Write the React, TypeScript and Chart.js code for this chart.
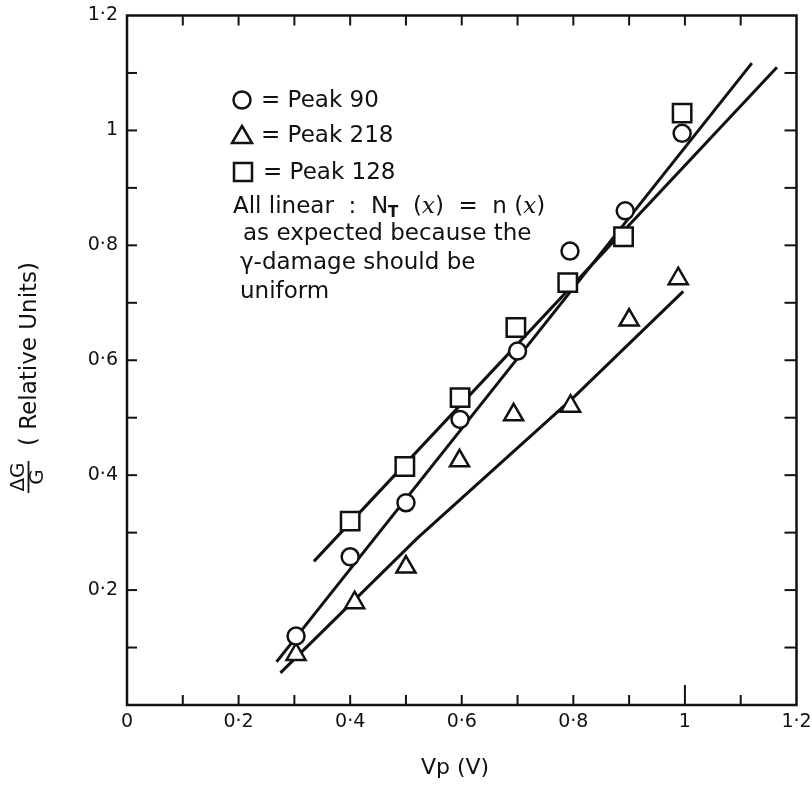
import React, { useEffect, useRef } from 'react';
import { Chart, registerables } from 'chart.js';

Chart.register(...registerables);

// ---- data ----
const peak90X = [0.303, 0.4, 0.5, 0.597, 0.7, 0.794, 0.893, 0.995];
const peak90Y = [0.12, 0.258, 0.352, 0.497, 0.616, 0.79, 0.86, 0.995];

const peak218X = [0.303, 0.408, 0.5, 0.596, 0.693, 0.795, 0.9, 0.988];
const peak218Y = [0.088, 0.178, 0.24, 0.425, 0.505, 0.52, 0.67, 0.742];

const peak128X = [0.4, 0.498, 0.597, 0.697, 0.79, 0.89, 0.995];
const peak128Y = [0.32, 0.415, 0.535, 0.657, 0.735, 0.815, 1.03];

const fit90X = [0.268, 1.12];
const fit90Y = [0.075, 1.117];
const fit128X = [0.335, 1.165];
const fit128Y = [0.25, 1.11];
const fit218X = [0.275, 0.52, 0.8, 0.997];
const fit218Y = [0.056, 0.29, 0.535, 0.72];

const xTickValues = [0, 0.2, 0.4, 0.6, 0.8, 1, 1.2];
const xTickLabels = ['0', '0·2', '0·4', '0·6', '0·8', '1', '1·2'];
const yTickValues = [0.2, 0.4, 0.6, 0.8, 1, 1.2];
const yTickLabels = ['0·2', '0·4', '0·6', '0·8', '1', '1·2'];

const legendLabels = ['= Peak 90', '= Peak 218', '= Peak 128'];
const noteLines = ['as expected because the', 'γ-damage should be', 'uniform'];
const xTitle = 'Vp (V)';
const yTitle = '( Relative Units)';

const FONT = '"DejaVu Sans", sans-serif';
const INK = '#111';

const pts = (xs: number[], ys: number[]) => xs.map((x, i) => ({ x, y: ys[i] }));

const lookup = (vals: number[], labels: string[]) => (value: any) => {
  const v = Number(value);
  const i = vals.findIndex((t) => Math.abs(t - v) < 1e-6);
  return i >= 0 ? labels[i] : '';
};

const decor = {
  id: 'decor',
  beforeDraw(chart: any) {
    const { ctx, width, height } = chart;
    ctx.save();
    ctx.fillStyle = '#fff';
    ctx.fillRect(0, 0, width, height);
    ctx.restore();
  },
  afterDraw(chart: any) {
    const { ctx, chartArea: a, scales } = chart;
    const xs = scales.x;
    const ys = scales.y;
    ctx.save();
    ctx.strokeStyle = INK;
    ctx.fillStyle = INK;
    ctx.lineWidth = 2.5;
    ctx.strokeRect(a.left, a.top, a.right - a.left, a.bottom - a.top);

    const line = (x1: number, y1: number, x2: number, y2: number) => {
      ctx.beginPath();
      ctx.moveTo(x1, y1);
      ctx.lineTo(x2, y2);
      ctx.stroke();
    };
    ctx.lineWidth = 2;
    xs.ticks.forEach((t: any) => {
      if (t.value < 0.05 || t.value > 1.15) return;
      const px = xs.getPixelForValue(t.value);
      const len = Math.abs(t.value - 1) < 1e-6 ? 20 : 10;
      line(px, a.bottom, px, a.bottom - len);
      line(px, a.top, px, a.top + 10);
    });
    ys.ticks.forEach((t: any) => {
      if (t.value < 0.05 || t.value > 1.15) return;
      const py = ys.getPixelForValue(t.value);
      line(a.left, py, a.left + 10, py);
      line(a.right, py, a.right - 12, py);
    });

    // x title
    ctx.font = `22px ${FONT}`;
    ctx.textAlign = 'center';
    ctx.textBaseline = 'middle';
    ctx.fillText(xTitle, 455, 768);

    // y title (rotated)
    ctx.save();
    const tx = 29;
    ctx.translate(tx, 0);
    ctx.rotate(-Math.PI / 2);
    ctx.font = `23px ${FONT}`;
    ctx.textAlign = 'right';
    ctx.textBaseline = 'middle';
    ctx.fillText(yTitle, -262, 1);
    ctx.textAlign = 'center';
    ctx.font = `20px ${FONT}`;
    ctx.fillText('ΔG', -477, -10);
    ctx.fillText('G', -477, 9);
    ctx.lineWidth = 1.8;
    line(-493, -0.5, -461, -0.5);
    ctx.restore();

    // legend block
    ctx.lineWidth = 2.5;
    ctx.textAlign = 'left';
    ctx.textBaseline = 'middle';
    ctx.font = `23px ${FONT}`;
    ctx.beginPath();
    ctx.arc(242, 100, 8.5, 0, Math.PI * 2);
    ctx.stroke();
    ctx.fillText(legendLabels[0], 261, 101);

    ctx.beginPath();
    ctx.moveTo(242, 126);
    ctx.lineTo(252, 143);
    ctx.lineTo(232, 143);
    ctx.closePath();
    ctx.stroke();
    ctx.fillText(legendLabels[1], 261, 136);

    ctx.strokeRect(234, 163, 18, 18);
    ctx.fillText(legendLabels[2], 263, 173);

    let cx = 233;
    const y4 = 207;
    const F = `23px ${FONT}`;
    const IT = `italic 23px "DejaVu Serif", serif`;
    const seg = (text: string, font: string, dy = 0) => {
      ctx.font = font;
      ctx.fillText(text, cx, y4 + dy);
      cx += ctx.measureText(text).width;
    };
    seg('All linear  :  N', F);
    seg('T', `bold 15px ${FONT}`, 6);
    seg('  (', F);
    seg('x', IT);
    seg(')  =  n (', F);
    seg('x', IT);
    seg(')', F);

    ctx.font = F;
    ctx.fillText(noteLines[0], 243, 234);
    ctx.fillText(noteLines[1], 240, 263);
    ctx.fillText(noteLines[2], 240, 292);
    ctx.restore();
  },
};

export default function App() {
  const ref = useRef<HTMLCanvasElement | null>(null);

  useEffect(() => {
    if (!ref.current) return;
    const markerBase = {
      type: 'scatter' as const,
      showLine: false,
      borderColor: INK,
      backgroundColor: '#fff',
      borderWidth: 2.5,
      order: 0,
    };
    const fitBase = {
      type: 'scatter' as const,
      showLine: true,
      borderColor: INK,
      backgroundColor: INK,
      borderWidth: 3,
      pointRadius: 0,
      tension: 0,
      order: 1,
    };
    const chart = new Chart(ref.current, {
      type: 'scatter',
      data: {
        datasets: [
          { ...markerBase, label: 'Peak 90', data: pts(peak90X, peak90Y), pointStyle: 'circle', pointRadius: 8.5 },
          { ...markerBase, label: 'Peak 218', data: pts(peak218X, peak218Y), pointStyle: 'triangle', pointRadius: 11 },
          { ...markerBase, label: 'Peak 128', data: pts(peak128X, peak128Y), pointStyle: 'rect', pointRadius: 13 },
          { ...fitBase, label: 'fit 90', data: pts(fit90X, fit90Y) },
          { ...fitBase, label: 'fit 128', data: pts(fit128X, fit128Y) },
          { ...fitBase, label: 'fit 218', data: pts(fit218X, fit218Y) },
        ],
      } as any,
      options: {
        animation: false,
        responsive: false,
        maintainAspectRatio: false,
        layout: { padding: { left: 0, right: 12, top: 15, bottom: 0 } },
        plugins: { legend: { display: false }, tooltip: { enabled: false } },
        scales: {
          x: {
            type: 'linear',
            min: 0,
            max: 1.2,
            grid: { display: false, drawTicks: false },
            border: { display: false },
            ticks: {
              stepSize: 0.1,
              autoSkip: false,
              maxRotation: 0,
              padding: 6,
              color: INK,
              font: { family: FONT, size: 19 },
              callback: lookup(xTickValues, xTickLabels),
            },
            afterFit: (s: any) => {
              s.height = 82;
              s.paddingLeft = 0;
              s.paddingRight = 0;
            },
          },
          y: {
            type: 'linear',
            min: 0,
            max: 1.2,
            grid: { display: false, drawTicks: false },
            border: { display: false },
            ticks: {
              stepSize: 0.1,
              autoSkip: false,
              padding: 9,
              color: INK,
              font: { family: FONT, size: 19 },
              callback: lookup(yTickValues, yTickLabels),
            },
            afterFit: (s: any) => {
              s.width = 127;
              s.paddingTop = 0;
              s.paddingBottom = 0;
            },
          },
        },
      } as any,
      plugins: [decor],
    });
    return () => chart.destroy();
  }, []);

  return (
    <div style={{ position: 'absolute', left: 0, top: 0, width: 812, height: 787, background: '#fff' }}>
      <canvas ref={ref} width={812} height={787} style={{ display: 'block' }} />
    </div>
  );
}
